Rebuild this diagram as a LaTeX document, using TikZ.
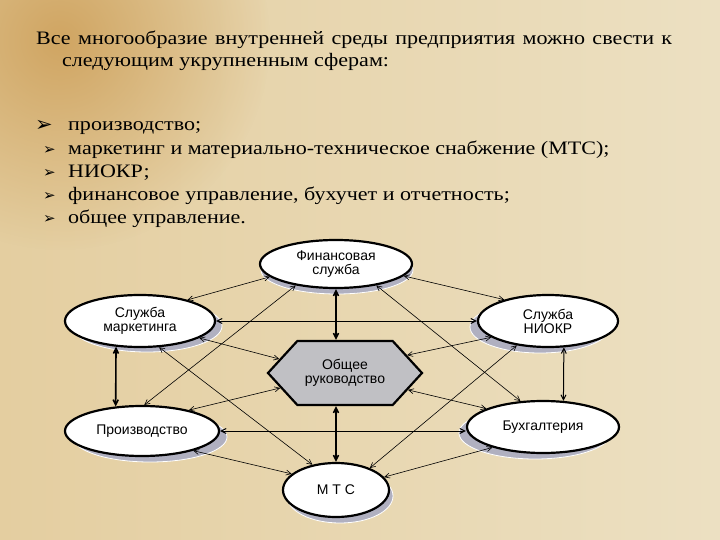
\documentclass[tikz,border=0pt]{standalone}
\usepackage{fontspec}
\setmainfont[FakeStretch=1.16]{Liberation Serif}
\setsansfont{Liberation Sans}
\newfontfamily\symfont{DejaVu Sans}
\usetikzlibrary{shapes.geometric,shapes.symbols,shadows,arrows.meta,fadings}

\definecolor{parch}{RGB}{231,213,172}
\definecolor{parchdark}{RGB}{208,165,98}
\definecolor{parchlight}{RGB}{236,224,194}
\definecolor{parchlow}{RGB}{228,206,160}
\definecolor{shadowgray}{RGB}{176,176,192}
\definecolor{hexgray}{RGB}{192,192,196}

\tikzfading[name=spotfade, inner color=transparent!0, outer color=transparent!100]

\tikzset{
  unit/.style={ellipse, draw, line width=2.2pt, fill=white, inner sep=0pt,
    align=center, font=\sffamily\fontsize{14}{14}\selectfont},
  shd/.style 2 args={drop shadow={shadow xshift=#1pt, shadow yshift=#2pt,
    fill=shadowgray, draw=white, line width=0.8pt, opacity=1}},
  hexa/.style={signal, signal to=west and east, signal pointer angle=95,
    draw, line width=2.2pt, fill=hexgray, inner sep=0pt,
    minimum width=154pt, minimum height=64pt,
    align=center, font=\sffamily\fontsize{14}{14}\selectfont},
  spoke/.style={<->, line width=0.6pt},
  rail/.style={<->, line width=1pt},
  trunk/.style={<->, line width=1.6pt},
  >={Straight Barb[length=5pt,width=5pt]}
}

\begin{document}
\begin{tikzpicture}[x=1pt, y=-1pt]
\useasboundingbox (0,0) rectangle (720,540);
% parchment
\shade[left color=parchlow, right color=parchlight] (0,0) rectangle (720,540);
\fill[parchdark, path fading=spotfade] (60,40) circle (210);

% heading
\node[anchor=base west, inner sep=0pt, font=\fontsize{19}{19}\selectfont] (head) at (36,45)
  {\makebox[636pt][s]{Все многообразие внутренней среды предприятия можно свести к}};
\node[anchor=base west, inner sep=0pt, font=\fontsize{19}{19}\selectfont] (head2) at (62,67)
  {следующим укрупненным сферам:};

% list
\node[anchor=base west, inner sep=0pt, font=\symfont\fontsize{21}{21}\selectfont] (m1) at (35,132) {➢};
\foreach \txt [count=\i] in {производство;,
    маркетинг и материально-техническое снабжение (МТС);,
    НИОКР;,
    {финансовое управление, бухучет и отчетность;},
    общее управление.}{
  \ifnum\i>1
    \node[anchor=base west, inner sep=0pt, font=\symfont\fontsize{15}{15}\selectfont] (m\i) at (43,131+23.25*\i-23.25) {➢};
  \fi
  \node[anchor=base west, inner sep=0pt, font=\fontsize{19}{19}\selectfont] (item\i) at (68,131+23.25*\i-23.25) {\txt};
}

% units
\node[unit, minimum width=152pt, minimum height=48pt, shd={1}{-6}] (fin) at (336,264) {Финансовая\\служба};
\node[unit, minimum width=150pt, minimum height=52pt, shd={7}{-5}] (mark) at (140,321) {Служба\\маркетинга};
\node[unit, minimum width=140pt, minimum height=52pt, shd={-8}{-6}] (niokr) at (548,321) {Служба\\НИОКР};
\node[hexa] (gen) at (345,373) {Общее\\руководство};
\node[unit, minimum width=154pt, minimum height=50pt, shd={8}{-6}] (prod) at (142,431) {Производство};
\node[unit, minimum width=152pt, minimum height=52pt, shd={-8}{-6}] (buh) at (543,427) {Бухгалтерия};
\node[unit, minimum width=106pt, minimum height=54pt, shd={4}{-6}] (mts) at (336,490) {М Т С};

% links
\draw[spoke] (mark.24) -- (fin.191);
\draw[spoke] (fin.350) -- (niokr.154);
\draw[trunk] (fin.south) -- (fin.south |- gen.north);
\draw[spoke] (fin.208) -- (prod.85);
\draw[spoke] (fin.332) -- (buh.131);
\draw[rail] (mark.east) -- (niokr.west);
\draw[spoke] (mark.344) -- (gen.168);
\draw[trunk] (mark.227) -- (prod.137);
\draw[spoke] (mark.306) -- (mts.133);
\draw[spoke] (niokr.196) -- (gen.16);
\draw[rail] (niokr.301) -- (buh.52);
\draw[spoke] (niokr.218) -- (mts.33);
\draw[spoke] (gen.193) -- (prod.24);
\draw[spoke] (gen.345) -- (buh.162);
\draw[trunk] (mts.north) -- (mts.north |- gen.south);
\draw[rail] (prod.east) -- (prod.east -| buh.west);
\draw[spoke] (prod.339) -- (mts.160);
\draw[spoke] (buh.202) -- (mts.15);
\end{tikzpicture}
\end{document}
